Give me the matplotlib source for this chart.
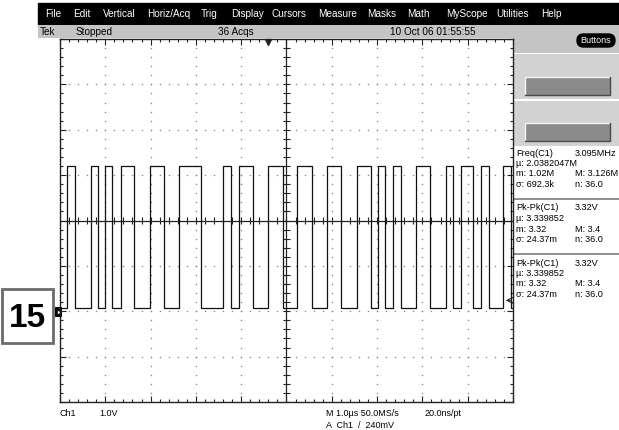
import numpy as np
import matplotlib.pyplot as plt
from matplotlib.patches import Rectangle, FancyBboxPatch

plt.rcParams['font.family'] = ['Liberation Sans', 'DejaVu Sans']

W, H = 619, 430

# scope settings (1 V/div, 1 us/div, 10 x 8 divisions)
x_range = (0.0, 10.0)
y_range = (-2.0, 6.0)
high_level = 3.20
low_level = 0.07
trig_level = 0.24
trig_time = 4.59

# edge times of the captured bit stream in us, first edge is rising
edge_times = [0.155, 0.33, 0.68, 0.84, 0.99, 1.15, 1.35, 1.63, 1.99, 2.30,
              2.63, 3.11, 3.60, 3.77, 3.95, 4.26, 4.59, 4.92, 5.23, 5.56,
              5.89, 6.20, 6.56, 6.87, 7.02, 7.17, 7.35, 7.53, 7.86, 8.17,
              8.52, 8.68, 8.85, 9.12, 9.29, 9.47, 9.78, 9.96]

menu_items = ['File', 'Edit', 'Vertical', 'Horiz/Acq', 'Trig', 'Display', 'Cursors',
              'Measure', 'Masks', 'Math', 'MyScope', 'Utilities', 'Help']
menu_x = [45, 73, 103, 147, 201, 231, 271, 318, 367, 407, 446, 496, 541]

status_texts = ['Tek', 'Stopped', '36 Acqs', '10 Oct 06 01:55:55']
status_x = [40, 76, 218, 390]

meas_blocks = [
    ['Freq(C1)', '3.095MHz', 'µ: 2.0382047M', '', 'm: 1.02M', 'M: 3.126M', 'σ: 692.3k', 'n: 36.0'],
    ['Pk-Pk(C1)', '3.32V', 'µ: 3.339852', '', 'm: 3.32', 'M: 3.4', 'σ: 24.37m', 'n: 36.0'],
    ['Pk-Pk(C1)', '3.32V', 'µ: 3.339852', '', 'm: 3.32', 'M: 3.4', 'σ: 24.37m', 'n: 36.0'],
]
meas_y0 = [153, 208, 263]

fig = plt.figure(figsize=(W / 100, H / 100), dpi=100)
fig.patch.set_facecolor('white')

# background "screen" in pixel coordinates
bg = fig.add_axes([0, 0, 1, 1], zorder=0)
bg.set_xlim(0, W)
bg.set_ylim(H, 0)
bg.axis('off')

def rect(x, y, w, h, **kw):
    bg.add_patch(Rectangle((x, y), w, h, **kw))

# menu bar and status line
rect(38, 3, W - 38, 22, color='black')
rect(38, 25, W - 38, 13, color='#c4c4c4', lw=0)
rect(513, 25, W - 513, 28, color='#c4c4c4', lw=0)
for name, x in zip(menu_items, menu_x):
    bg.text(x, 14, name, color='white', fontsize=7.2, va='center')
for s, x in zip(status_texts, status_x):
    bg.text(x, 32, s, color='black', fontsize=7.2, va='center')

# "Buttons" pill
bg.add_patch(FancyBboxPatch((577, 34), 38, 13, boxstyle='round,pad=0,rounding_size=6.5',
                            fc='black', ec='black'))
bg.text(596, 40.5, 'Buttons', color='white', fontsize=6.5, ha='center', va='center')

# side panels with the two grey buttons
for py, by in [(54, 77), (101, 123)]:
    rect(514, py, W - 514, 45, color='#d2d2d2', lw=0)
    rect(525, by, 85, 18, fc='#8a8a8a', ec='#8a8a8a', lw=0)
    bg.plot([525, 525, 610], [by + 18, by, by], color='#f4f4f4', lw=1)
    bg.plot([525, 610, 610], [by + 18, by + 18, by], color='#4a4a4a', lw=1)

# measurement readouts
for block, y0 in zip(meas_blocks, meas_y0):
    for i in range(4):
        bg.text(516, y0 + 10.5 * i, block[2 * i], fontsize=6.6, va='center')
        bg.text(575, y0 + 10.5 * i, block[2 * i + 1], fontsize=6.6, va='center')
for y in [199, 254]:
    bg.plot([514, W], [y, y], color='#7a7a7a', lw=1.2)

# "15" label box and channel ground marker
rect(2, 289, 51, 54, fc='white', ec='#6c6c6c', lw=2)
bg.text(27.5, 318.5, '15', fontsize=24, fontweight='bold', ha='center', va='center')
rect(55, 307, 7, 10, color='black', lw=0)
bg.plot(58.8, 312, marker='>', ms=2.5, color='white', mew=0)

# bottom readouts
bg.text(59, 414, 'Ch1', fontsize=6.5, va='center')
bg.text(99, 414, '1.0V', fontsize=6.5, va='center')
bg.text(326, 414, 'M 1.0µs 50.0MS/s', fontsize=6.5, va='center')
bg.text(425, 414, '20.0ns/pt', fontsize=6.5, va='center')
bg.text(326, 425, 'A  Ch1  /  240mV', fontsize=6.5, va='center')

# graticule
ax = fig.add_axes([60 / W, 1 - 402 / H, 453 / W, 363 / H], zorder=1)
ax.set_facecolor('none')
ax.set_xlim(*x_range)
ax.set_ylim(*y_range)
ax.set_xticks(np.arange(0, 10.01, 1))
ax.set_xticks(np.arange(0, 10.01, 0.2), minor=True)
ax.set_yticks(np.arange(-2, 6.01, 1))
ax.set_yticks(np.arange(-2, 6.01, 0.2), minor=True)
ax.tick_params(which='both', direction='in', top=True, right=True,
               labelbottom=False, labelleft=False, color='#222222', width=0.8)
ax.tick_params(which='major', length=4.5)
ax.tick_params(which='minor', length=2.2)
for sp in ax.spines.values():
    sp.set_color('#222222')
    sp.set_linewidth(1)

xs_minor = np.arange(0, 10.01, 0.2)
ys_minor = np.arange(-2, 6.01, 0.2)
for xv in range(1, 10):
    if xv != 5:
        ax.plot([xv] * len(ys_minor), ys_minor, ls='none', marker='o', ms=1.1, mew=0, color='#8a8a8a')
for yv in range(-1, 6):
    if yv != 2:
        ax.plot(xs_minor, [yv] * len(xs_minor), ls='none', marker='o', ms=1.1, mew=0, color='#8a8a8a')

# centre crosshair with small ticks
ax.axvline(5, color='#222222', lw=0.9)
ax.axhline(2, color='#222222', lw=0.9)
ax.vlines(xs_minor, 2 - 0.07, 2 + 0.07, color='#222222', lw=0.8)
ax.hlines(ys_minor, 5 - 0.07, 5 + 0.07, color='#222222', lw=0.8)

# waveform
t = [x_range[0]] + edge_times + [x_range[1]]
v = [low_level if i % 2 == 0 else high_level for i in range(len(edge_times) + 1)]
v = v + [v[-1]]
ax.plot(t, v, drawstyle='steps-post', color='#111111', lw=0.9)

# trigger position and level markers
ax.plot(trig_time, 5.93, marker='v', ms=5, color='#222222', clip_on=False)
ax.annotate('', xy=(9.78, trig_level), xytext=(10.0, trig_level),
            arrowprops=dict(arrowstyle='->', lw=0.8, color='#222222'))

fig.savefig('out.png', dpi=100)
